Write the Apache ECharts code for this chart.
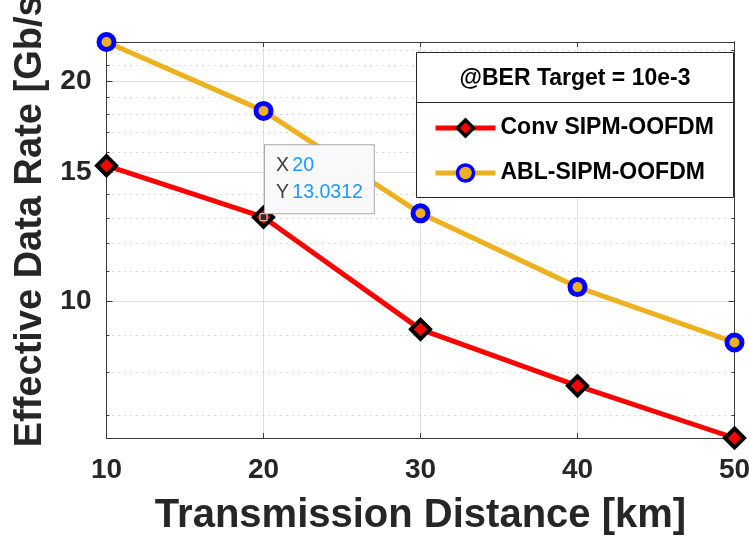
<!DOCTYPE html>
<html>
<head>
<meta charset="utf-8">
<script src="https://cdn.jsdelivr.net/npm/echarts@6/dist/echarts.min.js"></script>
<style>html,body{margin:0;padding:0;background:#fff;}#c{width:749px;height:541px;}</style>
</head>
<body>
<div id="c"></div>
<script>
// ---- data ----
const distances = [10, 20, 30, 40, 50];
const convRate = [15.32, 13.0312, 9.16, 7.67, 6.51];
const ablRate = [22.6, 18.2, 13.19, 10.46, 8.79];
const seriesNames = ['Conv SIPM-OOFDM', 'ABL-SIPM-OOFDM'];
const yMajorTicks = [10, 15, 20];
const yMinorTicks = [7, 8, 9, 11, 12, 13, 14, 16, 17, 18, 19, 21, 22];
const legendTitle = '@BER Target = 10e-3';
const xName = 'Transmission Distance [km]';
const yName = 'Effective Data Rate [Gb/s]';
const tipIndex = 1;

const FONT = '"Liberation Sans", Arial, Helvetica, sans-serif';
const AX = '#3a3a3a';
const yMin = Math.min(...convRate, ...ablRate);
const yMax = Math.max(...convRate, ...ablRate);

const chart = echarts.init(document.getElementById('c'), null, {renderer: 'canvas'});

function yAxisCfg(pos, ticks, opts) {
  return Object.assign({
    type: 'log', min: yMin, max: yMax, position: pos,
    axisLine: {show: true, lineStyle: {color: AX, width: 1}},
    axisTick: {show: true, inside: true, length: 6, customValues: ticks, lineStyle: {color: AX}},
    axisLabel: {show: false},
    splitLine: {show: false},
    minorTick: {show: false}, minorSplitLine: {show: false}
  }, opts || {});
}

const option = {
  animation: false,
  backgroundColor: '#fff',
  grid: {left: 106.5, right: 14.5, top: 42, bottom: 103, containLabel: false, outerBoundsMode: 'none'},
  xAxis: [{
    type: 'value', min: 10, max: 50, interval: 10, position: 'bottom',
    axisLine: {show: true, lineStyle: {color: AX, width: 1}},
    axisTick: {show: true, inside: true, length: 5, lineStyle: {color: AX}},
    axisLabel: {fontSize: 28, fontWeight: 'bold', color: '#262626', margin: 18, fontFamily: FONT},
    splitLine: {show: true, lineStyle: {color: '#dedede', width: 1}},
    name: xName, nameLocation: 'middle', nameGap: 58,
    nameTextStyle: {fontSize: 40, fontWeight: 'bold', color: '#262626', fontFamily: FONT}
  }, {
    type: 'value', min: 10, max: 50, interval: 10, position: 'top',
    axisLine: {show: true, lineStyle: {color: AX, width: 1}},
    axisTick: {show: true, inside: true, length: 5, lineStyle: {color: AX}},
    axisLabel: {show: false}, splitLine: {show: false}
  }],
  yAxis: [
    yAxisCfg('left', yMajorTicks, {
      axisLabel: {show: true, customValues: yMajorTicks, fontSize: 28, fontWeight: 'bold', color: '#262626', margin: 15, fontFamily: FONT},
      splitLine: {show: true, lineStyle: {color: '#dedede', width: 1}},
      name: yName, nameLocation: 'middle', nameGap: 56,
      nameTextStyle: {fontSize: 38, fontWeight: 'bold', color: '#262626', fontFamily: FONT, padding: [0, 0, 0, 50]}
    }),
    yAxisCfg('left', yMinorTicks, {
      axisLine: {show: false},
      axisTick: {show: true, inside: true, length: 3, customValues: yMinorTicks, lineStyle: {color: AX}},
      splitLine: {show: true, lineStyle: {color: '#b5b5b5', width: 1, type: [1, 5]}}
    }),
    yAxisCfg('right', yMajorTicks),
    yAxisCfg('right', yMinorTicks, {
      axisTick: {show: true, inside: true, length: 3, customValues: yMinorTicks, lineStyle: {color: AX}}
    })
  ],
  legend: {
    data: seriesNames, orient: 'vertical', left: 433, top: 115, padding: 0,
    itemGap: 19, itemWidth: 60, itemHeight: 20, selectedMode: false, z: 30,
    lineStyle: {width: 5},
    itemStyle: {borderWidth: 3.5},
    textStyle: {fontSize: 23, fontWeight: 'bold', color: '#000', lineHeight: 26, fontFamily: FONT}
  },
  graphic: [
    {type: 'rect', shape: {x: 416.5, y: 52.5, width: 317, height: 145}, style: {fill: '#fff', stroke: '#262626', lineWidth: 1}, z: 20},
    {type: 'line', shape: {x1: 416.5, y1: 102.5, x2: 733.5, y2: 102.5}, style: {stroke: '#262626', lineWidth: 1}, z: 21},
    {type: 'text', x: 575, y: 79, style: {text: legendTitle, font: 'bold 23px ' + FONT, fill: '#000', align: 'center', verticalAlign: 'middle'}, z: 21}
  ],
  series: [{
    name: seriesNames[0], type: 'line', xAxisIndex: 0, yAxisIndex: 0, clip: false, z: 3,
    data: distances.map((d, i) => [d, convRate[i]]),
    symbol: 'diamond', symbolSize: [19, 19],
    lineStyle: {color: '#ff0000', width: 5},
    itemStyle: {color: '#ff0000', borderColor: '#000', borderWidth: 4},
    markPoint: {
      z: 10, symbol: 'rect', symbolSize: 7,
      itemStyle: {color: '#2b2b2b', borderColor: '#ecebd2', borderWidth: 1},
      data: [{coord: [distances[tipIndex], convRate[tipIndex]]}],
      label: {
        show: true, position: [5.5, -68],
        formatter: '{k|X} {v|' + distances[tipIndex] + '}\n{k|Y} {v|' + convRate[tipIndex] + '}',
        backgroundColor: '#f9f9fb', borderColor: '#a8a8a8', borderWidth: 1,
        padding: [7, 11, 7, 11],
        rich: {
          k: {color: '#404040', fontSize: 19.5, lineHeight: 27, fontFamily: FONT},
          v: {color: '#1a9bff', fontSize: 19.5, lineHeight: 27, fontFamily: FONT}
        }
      }
    }
  }, {
    name: seriesNames[1], type: 'line', xAxisIndex: 0, yAxisIndex: 0, clip: false, z: 2,
    data: distances.map((d, i) => [d, ablRate[i]]),
    symbol: 'circle', symbolSize: 15,
    lineStyle: {color: '#edb120', width: 5},
    itemStyle: {color: '#edb120', borderColor: '#0000ff', borderWidth: 5}
  }]
};
chart.setOption(option);
</script>
</body>
</html>
